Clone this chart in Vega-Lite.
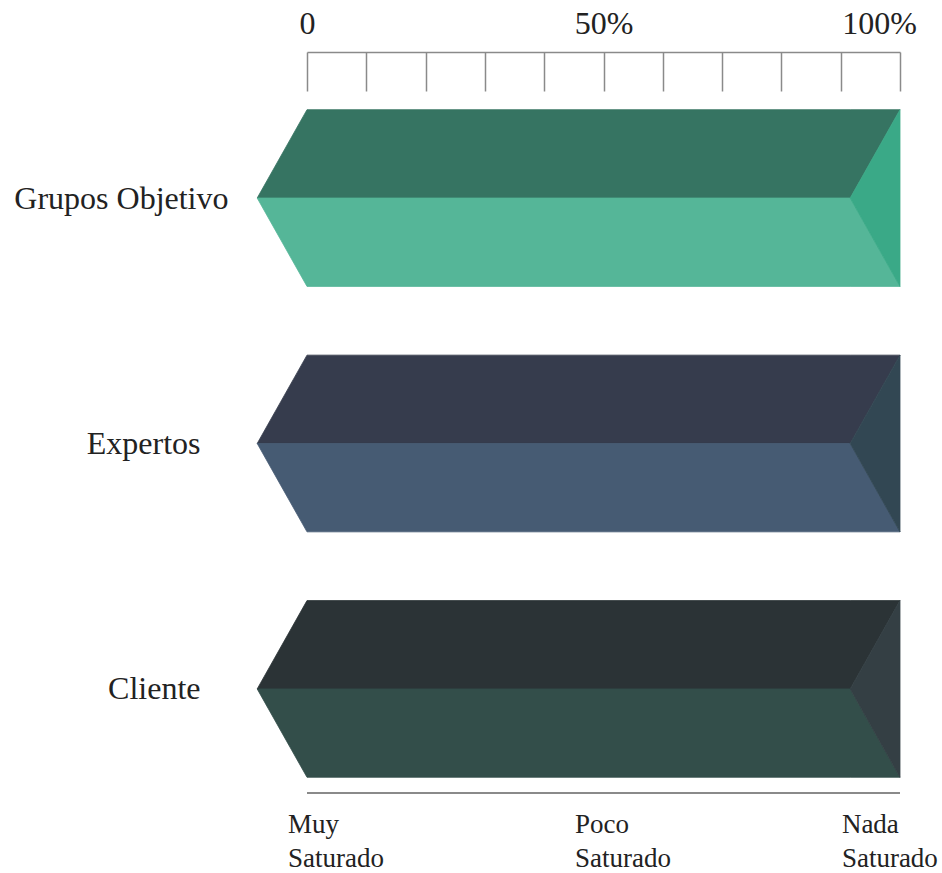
{
  "$schema": "https://vega.github.io/schema/vega-lite/v6.json",
  "width": 593,
  "height": 741,
  "autosize": {"type": "none"},
  "padding": {"left": 307, "top": 52, "right": 42, "bottom": 80},
  "background": "white",
  "config": {"view": {"stroke": null}, "font": "Liberation Serif"},
  "layer": [
    {
      "data": {"values": [
        {"part": "Grupos Objetivo|top", "pos": -8.4, "hi": 3, "lo": 3},
        {"part": "Grupos Objetivo|top", "pos": 0, "hi": 3.36, "lo": 3},
        {"part": "Grupos Objetivo|top", "pos": 91.6, "hi": 3.36, "lo": 3},
        {"part": "Grupos Objetivo|top", "pos": 100, "hi": 3.36, "lo": 3.36},
        {"part": "Grupos Objetivo|bottom", "pos": -8.4, "hi": 3, "lo": 3},
        {"part": "Grupos Objetivo|bottom", "pos": 0, "hi": 3, "lo": 2.64},
        {"part": "Grupos Objetivo|bottom", "pos": 91.6, "hi": 3, "lo": 2.64},
        {"part": "Grupos Objetivo|bottom", "pos": 100, "hi": 2.64, "lo": 2.64},
        {"part": "Grupos Objetivo|side", "pos": 91.6, "hi": 3, "lo": 3},
        {"part": "Grupos Objetivo|side", "pos": 100, "hi": 3.36, "lo": 2.64},
        {"part": "Expertos|top", "pos": -8.4, "hi": 2, "lo": 2},
        {"part": "Expertos|top", "pos": 0, "hi": 2.36, "lo": 2},
        {"part": "Expertos|top", "pos": 91.6, "hi": 2.36, "lo": 2},
        {"part": "Expertos|top", "pos": 100, "hi": 2.36, "lo": 2.36},
        {"part": "Expertos|bottom", "pos": -8.4, "hi": 2, "lo": 2},
        {"part": "Expertos|bottom", "pos": 0, "hi": 2, "lo": 1.64},
        {"part": "Expertos|bottom", "pos": 91.6, "hi": 2, "lo": 1.64},
        {"part": "Expertos|bottom", "pos": 100, "hi": 1.64, "lo": 1.64},
        {"part": "Expertos|side", "pos": 91.6, "hi": 2, "lo": 2},
        {"part": "Expertos|side", "pos": 100, "hi": 2.36, "lo": 1.64},
        {"part": "Cliente|top", "pos": -8.4, "hi": 1, "lo": 1},
        {"part": "Cliente|top", "pos": 0, "hi": 1.36, "lo": 1},
        {"part": "Cliente|top", "pos": 91.6, "hi": 1.36, "lo": 1},
        {"part": "Cliente|top", "pos": 100, "hi": 1.36, "lo": 1.36},
        {"part": "Cliente|bottom", "pos": -8.4, "hi": 1, "lo": 1},
        {"part": "Cliente|bottom", "pos": 0, "hi": 1, "lo": 0.64},
        {"part": "Cliente|bottom", "pos": 91.6, "hi": 1, "lo": 0.64},
        {"part": "Cliente|bottom", "pos": 100, "hi": 0.64, "lo": 0.64},
        {"part": "Cliente|side", "pos": 91.6, "hi": 1, "lo": 1},
        {"part": "Cliente|side", "pos": 100, "hi": 1.36, "lo": 0.64}
      ]},
      "mark": {"type": "area", "strokeWidth": 0.8, "interpolate": "linear", "fillOpacity": 1},
      "encoding": {
        "x": {
          "field": "pos", "type": "quantitative",
          "scale": {"domain": [0, 100], "nice": false, "zero": false},
          "axis": {
            "orient": "top", "title": null, "grid": false,
            "values": [0, 10, 20, 30, 40, 50, 60, 70, 80, 90, 100],
            "labelExpr": "datum.value == 0 ? '0' : datum.value == 50 ? '50%' : datum.value == 100 ? '100%' : ''",
            "labelOverlap": false, "labelBound": false, "labelFlush": false,
            "labelFont": "Liberation Serif", "labelFontSize": 32, "labelColor": "#222222",
            "labelPadding": 51,
            "labelOffset": {"condition": {"test": "datum.value == 100", "value": -21}, "value": 0},
            "domainColor": "#8a8a8a", "domainWidth": 1.5,
            "tickColor": "#8a8a8a", "tickWidth": 1.5, "tickSize": -39
          }
        },
        "y": {
          "field": "hi", "type": "quantitative",
          "scale": {"domain": [0.576, 3.595], "nice": false, "zero": false},
          "axis": {
            "title": null, "grid": false, "domain": false, "ticks": false,
            "values": [1, 2, 3], "labelLimit": 0,
            "labelExpr": "datum.value == 3 ? 'Grupos Objetivo' : datum.value == 2 ? 'Expertos' : 'Cliente'",
            "labelFont": "Liberation Serif", "labelFontSize": 32, "labelColor": "#222222",
            "labelPadding": {"condition": {"test": "datum.value == 3", "value": 79}, "value": 107}
          }
        },
        "y2": {"field": "lo"},
        "color": {
          "field": "part", "type": "nominal", "legend": null,
          "scale": {
            "domain": ["Grupos Objetivo|top", "Grupos Objetivo|bottom", "Grupos Objetivo|side", "Expertos|top", "Expertos|bottom", "Expertos|side", "Cliente|top", "Cliente|bottom", "Cliente|side"],
            "range": ["#367462", "#55b698", "#3aa987", "#363c4d", "#465b73", "#324753", "#2b3336", "#334e4a", "#343f44"]
          }
        },
        "stroke": {
          "field": "part", "type": "nominal", "legend": null,
          "scale": {
            "domain": ["Grupos Objetivo|top", "Grupos Objetivo|bottom", "Grupos Objetivo|side", "Expertos|top", "Expertos|bottom", "Expertos|side", "Cliente|top", "Cliente|bottom", "Cliente|side"],
            "range": ["#367462", "#55b698", "#3aa987", "#363c4d", "#465b73", "#324753", "#2b3336", "#334e4a", "#343f44"]
          }
        }
      }
    },
    {
      "data": {"values": [{"pos": 0, "to": 100, "hi": 0.576}]},
      "mark": {"type": "rule", "color": "#8a8a8a", "strokeWidth": 2},
      "encoding": {
        "x": {"field": "pos", "type": "quantitative"},
        "x2": {"field": "to"},
        "y": {"field": "hi", "type": "quantitative"}
      }
    },
    {
      "data": {"values": [
        {"label": "Muy\nSaturado", "pos": -3.2, "hi": 0.413},
        {"label": "Poco\nSaturado", "pos": 45.2, "hi": 0.413},
        {"label": "Nada\nSaturado", "pos": 90.2, "hi": 0.413}
      ]},
      "mark": {"type": "text", "align": "left", "baseline": "alphabetic", "lineBreak": "\n", "lineHeight": 34, "font": "Liberation Serif", "fontSize": 27, "color": "#222222"},
      "encoding": {
        "x": {"field": "pos", "type": "quantitative"},
        "y": {"field": "hi", "type": "quantitative"},
        "text": {"field": "label"}
      }
    }
  ]
}
